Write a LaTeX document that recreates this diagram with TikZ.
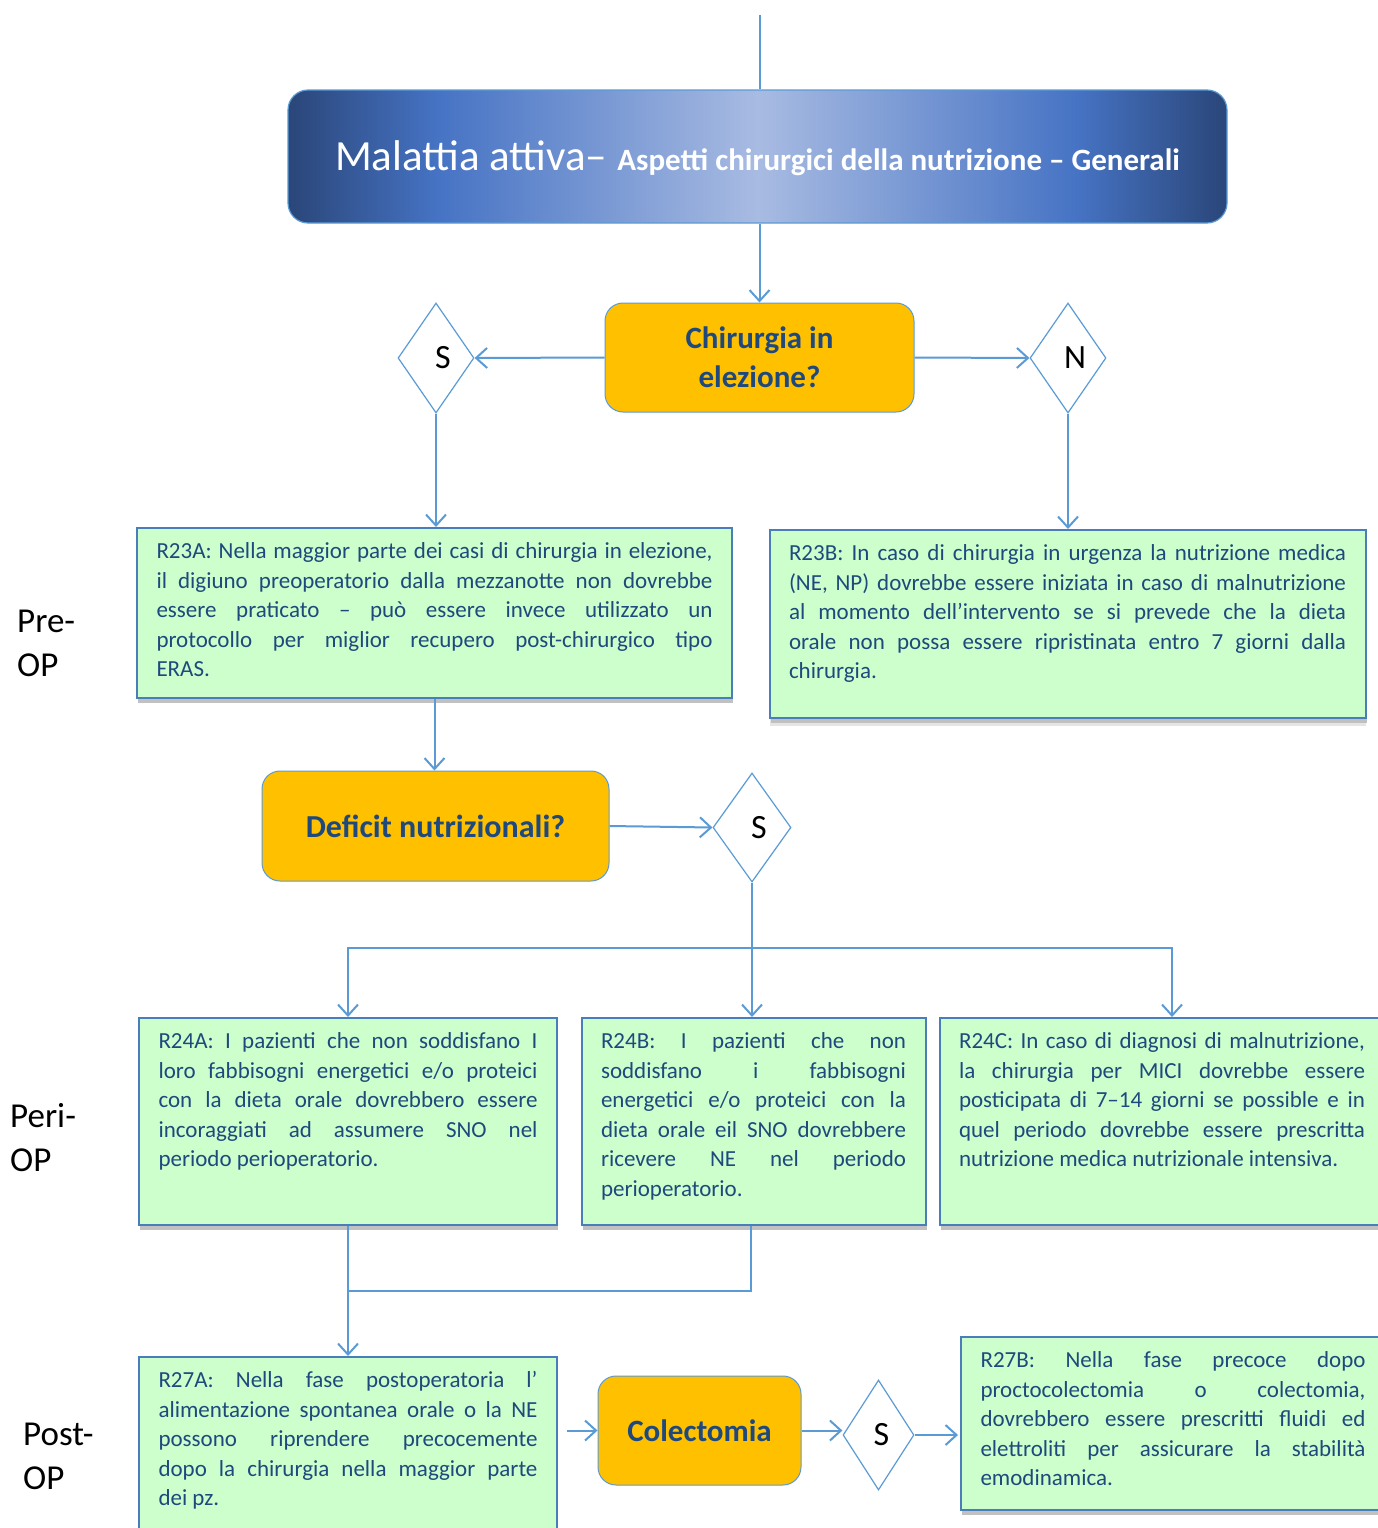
\documentclass[tikz,border=0pt]{standalone}
\usepackage{fontspec}
\setmainfont{Carlito}
\usetikzlibrary{shapes.geometric,arrows.meta,shadows,calc}

\definecolor{linkblue}{HTML}{5B9BD5}
\definecolor{boxline}{HTML}{4A7EBB}
\definecolor{mint}{HTML}{CCFFCC}
\definecolor{amber}{HTML}{FFC000}
\definecolor{ink}{HTML}{1F497D}
\definecolor{navyA}{HTML}{2A4679}
\definecolor{navyB}{HTML}{4673C4}
\definecolor{navyC}{HTML}{A8BBE2}

% the banner gradient: stops within 25bp..75bp map onto the path's width
\pgfdeclarehorizontalshading{titleshade}{100bp}{color(0bp)=(navyA); color(25bp)=(navyA); color(33bp)=(navyB); color(50bp)=(navyC); color(67bp)=(navyB); color(75bp)=(navyA); color(100bp)=(navyA)}

% justified recommendation text, one forced break per printed line
\newcommand{\rectext}[3]{\begin{minipage}[t][#2][t]{#1}\fontsize{23pt}{29.5pt}\selectfont
  \tolerance=10000\hyphenpenalty=10000\hbadness=10000\strut#3\end{minipage}}

\tikzset{
  link/.style={draw=linkblue, line width=2pt},
  arrowlink/.style={link, -{Straight Barb[length=11pt,width=20pt]}},
  rec/.style={draw=boxline, line width=2pt, fill=mint, inner xsep=19.5pt, inner ysep=10pt,
    text=ink, drop shadow={shadow xshift=1pt, shadow yshift=-5pt, fill=black!60, opacity=0.4}},
  question/.style={draw=linkblue, line width=1pt, fill=amber, rounded corners=18pt,
    text=ink, align=center, font=\bfseries\fontsize{31pt}{39pt}\selectfont},
  decide/.style={diamond, draw=linkblue, line width=1.2pt, fill=white, inner sep=0pt,
    font=\fontsize{34pt}{38pt}\selectfont},
  side/.style={anchor=west, align=left, inner sep=0pt, font=\fontsize{35pt}{44pt}\selectfont}
}
\newcommand{\dlabel}[1]{\hspace*{14pt}#1}

\begin{document}
\begin{tikzpicture}[x=1pt,y=-1pt]
\clip (0,0) rectangle (1378,1528);
\fill[white] (0,0) rectangle (1378,1528);

% title banner
\node[draw=linkblue, line width=1.2pt, shading=titleshade, rounded corners=20pt,
      minimum width=939pt, minimum height=133pt, text=white, inner sep=0pt,
      text height=30pt, text depth=0pt]
  (title) at (757.5,156.5)
  {\raisebox{1pt}{{\fontsize{43pt}{48pt}\selectfont Malattia attiva–}\hspace{10pt}{\bfseries\fontsize{31pt}{34pt}\selectfont Aspetti chirurgici della nutrizione – Generali}}};

% questions
\node[question, minimum width=309pt, minimum height=109pt] (chir) at (759.5,357.5) {Chirurgia in\\elezione?};
\node[question, minimum width=347pt, minimum height=110pt, font=\bfseries\fontsize{32pt}{36pt}\selectfont] (deficit) at (435.5,826) {Deficit nutrizionali?};
\node[question, minimum width=203pt, minimum height=109pt] (colect) at (699.5,1430.5) {Colectomia};

% decisions
\node[decide, minimum width=76pt, minimum height=110pt] (yes1) at (436,358) {\dlabel{S}};
\node[decide, minimum width=76pt, minimum height=110pt] (no1) at (1068,358) {\dlabel{N}};
\node[decide, minimum width=78pt, minimum height=109pt] (yes2) at (752,827.5) {\dlabel{S}};
\node[decide, minimum width=71pt, minimum height=110pt] (yes3) at (878.5,1435) {\hspace*{6pt}S};

% recommendations
\node[rec] (r23a) at (434.5,613) {\rectext{556pt}{150pt}{R23A: Nella maggior parte dei casi di chirurgia in elezione,\linebreak
il digiuno preoperatorio dalla mezzanotte non dovrebbe\linebreak
essere praticato – può essere invece utilizzato un\linebreak
protocollo per miglior recupero post-chirurgico tipo\linebreak
ERAS.}};
\node[rec, drop shadow={shadow xshift=0pt, shadow yshift=-8pt, fill=black!25, opacity=0.4}] (r23b) at (1067.5,624) {\rectext{557pt}{168pt}{R23B: In caso di chirurgia in urgenza la nutrizione medica\linebreak
(NE, NP) dovrebbe essere iniziata in caso di malnutrizione\linebreak
al momento dell’intervento se si prevede che la dieta\linebreak
orale non possa essere ripristinata entro 7 giorni dalla\linebreak
chirurgia.}};
\node[rec] (r24a) at (348,1121.5) {\rectext{379pt}{187pt}{R24A: I pazienti che non soddisfano I\linebreak
loro fabbisogni energetici e/o proteici\linebreak
con la dieta orale dovrebbero essere\linebreak
incoraggiati ad assumere SNO nel\linebreak
periodo perioperatorio.}};
\node[rec] (r24b) at (753.5,1121.5) {\rectext{305pt}{187pt}{R24B: I pazienti che non\linebreak
soddisfano i fabbisogni\linebreak
energetici e/o proteici con la\linebreak
dieta orale eil SNO dovrebbere\linebreak
ricevere NE nel periodo\linebreak
perioperatorio.}};
\node[rec] (r24c) at (1162,1121.5) {\rectext{406pt}{187pt}{R24C: In caso di diagnosi di malnutrizione,\linebreak
la chirurgia per MICI dovrebbe essere\linebreak
posticipata di 7–14 giorni se possible e in\linebreak
quel periodo dovrebbe essere prescritta\linebreak
nutrizione medica nutrizionale intensiva.}};
\node[rec] (r27a) at (348,1448) {\rectext{379pt}{162pt}{R27A: Nella fase postoperatoria l’\linebreak
alimentazione spontanea orale o la NE\linebreak
possono riprendere precocemente\linebreak
dopo la chirurgia nella maggior parte\linebreak
dei pz.}};
\node[rec] (r27b) at (1173,1423.5) {\rectext{385pt}{153pt}{R27B: Nella fase precoce dopo\linebreak
proctocolectomia o colectomia,\linebreak
dovrebbero essere prescritti fluidi ed\linebreak
elettroliti per assicurare la stabilità\linebreak
emodinamica.}};

% phase labels
\node[side] (pre) at (17,643) {Pre-\\OP};
\node[side] (peri) at (10,1138) {Peri-\\OP};
\node[side] (post) at (23,1456) {Post-\\OP};

% connectors
\coordinate (top) at (760,15);
\draw[link] (top) -- (top |- title.north);
\draw[arrowlink] (chir.north |- title.south) -- (chir.north);
\draw[arrowlink] (chir.west) -- (yes1.east);
\draw[arrowlink] (chir.east) -- (no1.west);
\draw[arrowlink] (yes1.south) -- (yes1.south |- r23a.north);
\draw[arrowlink] (no1.south) -- (no1.south |- r23b.north);
\draw[arrowlink] (r23a.south) -- (r23a.south |- deficit.north);
\draw[arrowlink] (deficit.east) -- (yes2.west);
\coordinate (fork) at ($(yes2.south)!0.49!(yes2.south |- r24b.north)$);
\draw[arrowlink] (yes2.south) -- (yes2.south |- r24b.north);
\draw[arrowlink] (fork) -| (r24a.north);
\draw[arrowlink] (fork) -| ([xshift=10pt]r24c.north);
\coordinate (merge) at ($(r24a.south)!0.5!(r27a.north)$);
\draw[arrowlink] (r24a.south) -- (r27a.north);
\draw[link] ([xshift=-3pt]r24b.south) |- (merge);
\draw[arrowlink] ([xshift=9pt]r27a.east |- colect.west) -- (colect.west);
\draw[arrowlink] (colect.east) -- (colect.east -| yes3.west);
\draw[arrowlink] (yes3.east) -- ([xshift=-2pt]yes3.east -| r27b.west);
\end{tikzpicture}
\end{document}
